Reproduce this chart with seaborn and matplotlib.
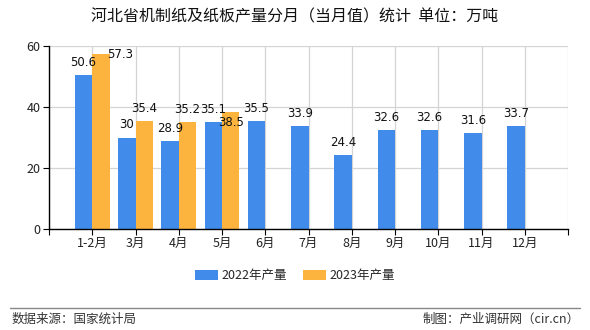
import matplotlib
matplotlib.use("Agg")
import matplotlib.pyplot as plt
import seaborn as sns
import pandas as pd
import numpy as np
from matplotlib.patches import Patch

months = ["1-2月", "3月", "4月", "5月", "6月", "7月", "8月", "9月", "10月", "11月", "12月"]
vals_2022 = [50.6, 30, 28.9, 35.1, 35.5, 33.9, 24.4, 32.6, 32.6, 31.6, 33.7]
vals_2023 = [57.3, 35.4, 35.2, 38.5, None, None, None, None, None, None, None]
series = ["2022年产量", "2023年产量"]
colors = ["#418BEB", "#FCB43E"]
title = "河北省机制纸及纸板产量分月（当月值）统计  单位：万吨"
source = "数据来源：国家统计局"
credit = "制图：产业调研网（cir.cn）"

df = pd.DataFrame({
    "month": months * 2,
    "series": [series[0]] * len(months) + [series[1]] * len(months),
    "value": vals_2022 + vals_2023,
})
df["value"] = df["value"].astype(float)

sns.set_theme(style="white")
plt.rcParams["font.family"] = ["Noto Sans CJK SC", "DejaVu Sans"]

fig = plt.figure(figsize=(5.9, 3.3), dpi=100)
ax = fig.add_axes([49 / 590, 1 - 229 / 330, (568 - 49) / 590, (229 - 46) / 330])

sns.barplot(data=df, x="month", y="value", hue="series", order=months,
            hue_order=series, palette=colors, width=0.8, saturation=1,
            ax=ax, legend=False, errorbar=None, linewidth=0, edgecolor="none")

ax.set_xlim(-1, 11)
ax.set_ylim(0, 60)
ax.set_xticks(range(-1, 12))
ax.set_xticklabels([""] + months + [""], fontsize=9, color="#222222")
ax.set_yticks([0, 20, 40, 60])
ax.set_yticklabels(["0", "20", "40", "60"], fontsize=9, color="#222222")
ax.set_xlabel("")
ax.set_ylabel("")
ax.grid(True, color="#d4d4d4", linewidth=0.9)
ax.set_axisbelow(True)
for s in ["top", "right"]:
    ax.spines[s].set_visible(False)
for s in ["left", "bottom"]:
    ax.spines[s].set_color("black")
    ax.spines[s].set_linewidth(1.0)
ax.tick_params(axis="both", which="major", direction="out", length=4,
               width=0.8, color="black", bottom=True, left=True, pad=2)

# value labels
special = {(1, 0): (14, 0, "center"), (1, 3): (0, -8, "center")}
for si, cont in enumerate(ax.containers):
    for mi, bar in enumerate(cont):
        h = bar.get_height()
        if h is None or np.isnan(h) or h == 0:
            continue
        cx = bar.get_x() + bar.get_width() / 2
        dx, dy, ha = special.get((si, mi), (0, 9, "center"))
        txt = f"{h:g}"
        ax.annotate(txt, (cx, h), xytext=(dx, dy), textcoords="offset points",
                    ha=ha, va="center", fontsize=8.5, color="#111111",
                    family=["DejaVu Sans"])

# legend
handles = [Patch(facecolor=c, edgecolor="none") for c in colors]
fig.legend(handles, series, loc="center", bbox_to_anchor=(0.5, 1 - 276 / 330),
           ncol=2, frameon=False, fontsize=9, handlelength=1.8,
           handleheight=0.9, columnspacing=1.3, handletextpad=0.3)

fig.text(0.5, 1 - 17 / 330, title, ha="center", va="center", fontsize=11.5,
         color="#111111")
fig.add_artist(plt.Line2D([10 / 590, 580 / 590], [1 - 308 / 330] * 2,
                          color="#888888", linewidth=1, transform=fig.transFigure))
fig.text(12 / 590, 1 - 319 / 330, source, ha="left", va="center", fontsize=9,
         color="#333333")
fig.text(580 / 590, 1 - 319 / 330, credit, ha="right", va="center", fontsize=9,
         color="#333333")

fig.savefig("out.png", dpi=100)
